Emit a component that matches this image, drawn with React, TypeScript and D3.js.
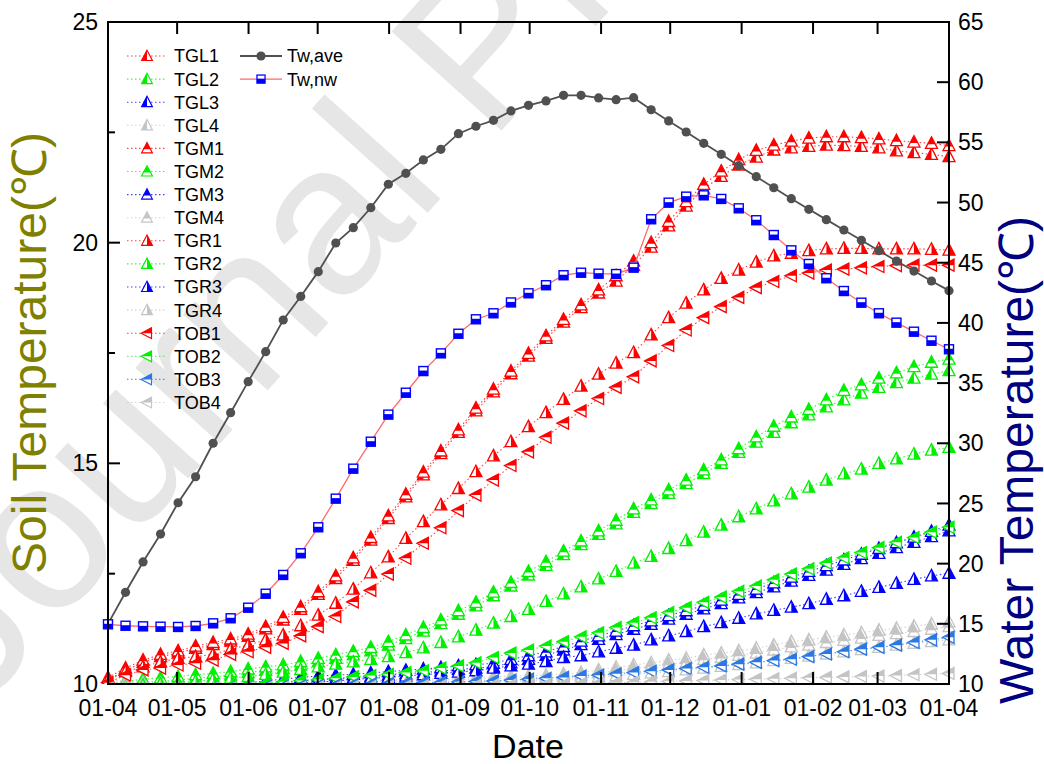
import React from "react";
import * as d3 from "d3";

const WIDTH = 1044;
const HEIGHT = 764;
const PLOT = { left: 108, right: 949, top: 22, bottom: 684 };
const FONT = "'Liberation Sans', Arial, Helvetica, sans-serif";

// Sampling: 49 evenly spaced readings across one year
const START = new Date(2020, 3, 1);
const END = new Date(2021, 3, 1);
const STEP_DAYS = 365 / 48;
const sampleDates = d3.range(49).map((i) => new Date(START.getTime() + i * STEP_DAYS * 864e5));

// Soil temperatures (℃), left axis
const TGL1 = [10.10,10.31,10.49,10.62,10.70,10.81,10.89,10.97,11.08,11.25, 11.45,11.69,12.03,12.39,12.80,13.26,13.75,14.24,14.74,15.22, 15.70,16.19,16.62,17.03,17.43,17.83,18.20,18.53,18.86,19.13, 19.48,19.90,20.38,20.83,21.22,21.50,21.76,21.94,22.10,22.15, 22.18,22.21,22.20,22.18,22.15,22.08,22.04,22.00,21.95];
const TGL2 = [9.91,9.98,10.03,10.06,10.09,10.13,10.16,10.20,10.26,10.31, 10.35,10.43,10.50,10.58,10.66,10.75,10.88,11.03,11.20,11.37, 11.58,11.77,12.00,12.22,12.47,12.69,12.93,13.16,13.39,13.63, 13.89,14.09,14.32,14.54,14.77,15.00,15.25,15.48,15.70,15.92, 16.10,16.28,16.44,16.59,16.72,16.83,16.93,17.02,17.10];
const TGL3 = [9.60,9.65,9.70,9.75,9.79,9.83,9.87,9.91,9.95,9.99, 10.03,10.07,10.10,10.12,10.14,10.17,10.20,10.23,10.26,10.29, 10.33,10.36,10.39,10.48,10.56,10.65,10.77,10.89,11.01,11.12, 11.24,11.35,11.47,11.58,11.70,11.82,11.95,12.07,12.20,12.33, 12.46,12.58,12.71,12.84,12.96,13.09,13.21,13.34,13.47];
const TGL4 = [10.08,10.07,10.06,10.05,10.05,10.04,10.04,10.04,10.04,10.04, 10.05,10.05,10.06,10.06,10.07,10.08,10.09,10.10,10.11,10.12, 10.13,10.15,10.16,10.18,10.19,10.20,10.23,10.26,10.32,10.38, 10.43,10.48,10.54,10.58,10.66,10.70,10.75,10.81,10.88,10.96, 11.00,11.06,11.11,11.16,11.22,11.26,11.31,11.36,11.41];
const TGM1 = [10.15,10.36,10.54,10.67,10.75,10.86,10.94,11.02,11.13,11.30, 11.51,11.75,12.09,12.45,12.86,13.32,13.81,14.30,14.80,15.28, 15.76,16.25,16.68,17.09,17.49,17.89,18.26,18.59,18.93,19.25, 19.58,20.00,20.48,20.93,21.32,21.62,21.88,22.09,22.21,22.30, 22.37,22.40,22.40,22.38,22.35,22.31,22.28,22.25,22.20];
const TGM2 = [9.99,10.06,10.11,10.14,10.17,10.21,10.24,10.28,10.34,10.39, 10.43,10.51,10.58,10.66,10.74,10.83,10.96,11.11,11.28,11.45, 11.66,11.85,12.08,12.30,12.55,12.77,13.01,13.24,13.47,13.71, 13.97,14.17,14.40,14.62,14.85,15.08,15.33,15.60,15.84,16.05, 16.22,16.44,16.65,16.78,16.93,17.05,17.19,17.29,17.36];
const TGM3 = [9.68,9.73,9.78,9.83,9.87,9.91,9.95,9.99,10.03,10.07, 10.11,10.15,10.18,10.20,10.22,10.25,10.28,10.31,10.34,10.37, 10.41,10.44,10.47,10.56,10.64,10.73,10.85,10.97,11.09,11.20, 11.32,11.43,11.55,11.66,11.78,11.90,12.03,12.15,12.29,12.42, 12.55,12.68,12.81,12.94,13.07,13.20,13.33,13.46,13.60];
const TGM4 = [10.05,10.04,10.03,10.02,10.02,10.01,10.01,10.01,10.01,10.01, 10.02,10.02,10.03,10.03,10.04,10.05,10.06,10.07,10.08,10.09, 10.10,10.11,10.12,10.13,10.14,10.15,10.17,10.20,10.25,10.30, 10.35,10.40,10.45,10.49,10.56,10.60,10.65,10.70,10.77,10.84, 10.88,10.94,10.99,11.04,11.10,11.14,11.19,11.24,11.30];
const TGR1 = [10.08,10.28,10.39,10.50,10.58,10.62,10.67,10.79,10.88,11.00, 11.11,11.32,11.56,11.83,12.15,12.52,12.88,13.30,13.68,14.06, 14.43,14.81,15.17,15.49,15.83,16.15,16.45,16.75,17.02,17.27, 17.51,17.91,18.30,18.63,18.93,19.19,19.38,19.56,19.70,19.76, 19.82,19.86,19.87,19.87,19.86,19.86,19.86,19.85,19.83];
const TGR2 = [9.85,9.92,9.97,10.00,10.03,10.06,10.10,10.13,10.17,10.22, 10.27,10.33,10.39,10.45,10.50,10.56,10.62,10.71,10.82,10.94, 11.07,11.22,11.38,11.53,11.69,11.87,12.04,12.20,12.38,12.55, 12.74,12.89,13.07,13.25,13.44,13.60,13.79,13.97,14.15,14.31, 14.46,14.62,14.76,14.87,15.00,15.10,15.21,15.30,15.36];
const TGR3 = [9.50,9.55,9.60,9.65,9.70,9.75,9.80,9.85,9.90,9.94, 9.98,10.01,10.04,10.07,10.10,10.13,10.15,10.18,10.21,10.24, 10.27,10.30,10.36,10.41,10.45,10.51,10.60,10.64,10.73,10.81, 10.88,11.00,11.09,11.19,11.30,11.39,11.49,11.59,11.67,11.74, 11.82,11.92,12.00,12.10,12.19,12.28,12.37,12.45,12.51];
const TGR4 = [9.90,9.90,9.90,9.90,9.90,9.90,9.91,9.91,9.92,9.92, 9.93,9.94,9.95,9.96,9.97,9.98,9.99,10.00,10.01,10.02, 10.03,10.04,10.05,10.06,10.07,10.08,10.10,10.13,10.16,10.19, 10.22,10.25,10.28,10.32,10.36,10.40,10.44,10.48,10.53,10.58, 10.63,10.68,10.73,10.78,10.83,10.88,10.92,10.96,11.00];
const TOB1 = [10.03,10.20,10.32,10.36,10.43,10.47,10.54,10.67,10.73,10.83, 10.92,11.09,11.30,11.53,11.86,12.12,12.49,12.85,13.19,13.54, 13.93,14.28,14.62,14.95,15.26,15.59,15.91,16.19,16.47,16.72, 16.96,17.32,17.67,18.02,18.30,18.55,18.76,18.98,19.12,19.25, 19.31,19.38,19.40,19.43,19.46,19.48,19.49,19.49,19.49];
const TOB2 = [9.70,9.75,9.80,9.84,9.87,9.90,9.93,9.96,9.99,10.02, 10.05,10.08,10.10,10.13,10.16,10.19,10.22,10.26,10.30,10.36, 10.41,10.48,10.60,10.70,10.77,10.86,10.96,11.07,11.16,11.28, 11.39,11.50,11.62,11.73,11.85,11.97,12.10,12.22,12.36,12.49, 12.61,12.74,12.86,12.98,13.09,13.21,13.32,13.44,13.55];
const TOB3 = [9.85,9.86,9.87,9.88,9.89,9.90,9.91,9.92,9.93,9.94, 9.95,9.96,9.97,9.98,9.99,10.00,10.01,10.02,10.03,10.04, 10.05,10.06,10.07,10.09,10.11,10.13,10.15,10.18,10.20,10.23, 10.26,10.29,10.32,10.35,10.38,10.41,10.45,10.49,10.53,10.56, 10.62,10.68,10.73,10.79,10.83,10.88,10.94,11.00,11.06];
const TOB4 = [9.90,9.90,9.90,9.90,9.90,9.90,9.90,9.91,9.91,9.91, 9.92,9.92,9.93,9.93,9.94,9.94,9.95,9.95,9.96,9.96, 9.97,9.97,9.98,9.98,9.99,9.99,10.00,10.01,10.02,10.03, 10.04,10.05,10.06,10.07,10.08,10.09,10.10,10.11,10.12,10.13, 10.14,10.15,10.16,10.17,10.18,10.19,10.21,10.22,10.24];

// Water temperatures (℃), right axis
const TW_AVE = [15.0,17.62,20.14,22.46,25.06,27.22,30.0,32.54,35.12,37.61, 40.24,42.2,44.26,46.64,47.91,49.57,51.52,52.43,53.54,54.42, 55.72,56.34,56.83,57.61,58.08,58.44,58.91,58.91,58.69,58.55, 58.71,57.71,56.78,55.86,54.92,54.01,53.06,52.15,51.23,50.32, 49.44,48.58,47.72,46.86,46.0,45.14,44.31,43.48,42.68];
const TW_NW = [14.96,14.84,14.79,14.76,14.74,14.82,15.04,15.46,16.34,17.5, 19.06,20.86,23.02,25.4,27.89,30.13,32.38,34.2,36.0,37.47, 39.1,40.3,40.8,41.7,42.46,43.13,43.96,44.17,44.09,44.06, 44.59,48.61,49.99,50.49,50.6,50.3,49.52,48.53,47.3,46.03, 44.9,43.71,42.65,41.68,40.8,40.02,39.27,38.52,37.81];

// Axis ticks
const LEFT_TICKS = [10, 15, 20, 25];
const LEFT_MINOR = [12.5, 17.5, 22.5];
const RIGHT_TICKS = [10, 15, 20, 25, 30, 35, 40, 45, 50, 55, 60, 65];

type MarkerKind = "left" | "top" | "right" | "obs";

const RED = "#ff0000";
const GREEN = "#00f000";
const BLUE = "#0000ff";
const GREY = "#c4c4c4";
const SKY = "#2b78e4";

const soilSeries: { name: string; values: number[]; color: string; kind: MarkerKind }[] = [
  { name: "TGL1", values: TGL1, color: RED, kind: "left" },
  { name: "TGL2", values: TGL2, color: GREEN, kind: "left" },
  { name: "TGL3", values: TGL3, color: BLUE, kind: "left" },
  { name: "TGL4", values: TGL4, color: GREY, kind: "left" },
  { name: "TGM1", values: TGM1, color: RED, kind: "top" },
  { name: "TGM2", values: TGM2, color: GREEN, kind: "top" },
  { name: "TGM3", values: TGM3, color: BLUE, kind: "top" },
  { name: "TGM4", values: TGM4, color: GREY, kind: "top" },
  { name: "TGR1", values: TGR1, color: RED, kind: "right" },
  { name: "TGR2", values: TGR2, color: GREEN, kind: "right" },
  { name: "TGR3", values: TGR3, color: BLUE, kind: "right" },
  { name: "TGR4", values: TGR4, color: GREY, kind: "right" },
  { name: "TOB1", values: TOB1, color: RED, kind: "obs" },
  { name: "TOB2", values: TOB2, color: GREEN, kind: "obs" },
  { name: "TOB3", values: TOB3, color: SKY, kind: "obs" },
  { name: "TOB4", values: TOB4, color: GREY, kind: "obs" },
];

const x = d3.scaleTime().domain([START, END]).range([PLOT.left, PLOT.right]);
const yL = d3.scaleLinear().domain([10, 25]).range([PLOT.bottom, PLOT.top]);
const yR = d3.scaleLinear().domain([10, 65]).range([PLOT.bottom, PLOT.top]);
const monthTicks = x.ticks(d3.timeMonth.every(1) as d3.TimeInterval);
const fmt = d3.timeFormat("%d-%m");

const UP = "M0,-6.5L6,5L-6,5Z";
const LEFTTRI = "M-6.5,0L5,-6L5,6Z";
const HALF: Record<MarkerKind, string> = {
  left: "M0,-6.5L-6,5L0,5Z",
  right: "M0,-6.5L6,5L0,5Z",
  top: "M0,-6.5L3.9,1L-3.9,1Z",
  obs: "M-6.5,0L5,-6L5,0Z",
};

function TriMarker({ cx, cy, kind, color, s = 1 }: { cx: number; cy: number; kind: MarkerKind; color: string; s?: number }) {
  const outline = kind === "obs" ? LEFTTRI : UP;
  return (
    <g transform={`translate(${cx},${cy}) scale(${s})`}>
      <path d={outline} fill="#fff" />
      <path d={HALF[kind]} fill={color} />
      <path d={outline} fill="none" stroke={color} strokeWidth={1.3} />
    </g>
  );
}

function SquareMarker({ cx, cy, s = 1 }: { cx: number; cy: number; s?: number }) {
  return (
    <g transform={`translate(${cx},${cy}) scale(${s})`}>
      <rect x={-4.5} y={-4.5} width={9} height={9} fill="#fff" />
      <rect x={-4.5} y={-0.5} width={9} height={5} fill={BLUE} />
      <rect x={-4.5} y={-4.5} width={9} height={9} fill="none" stroke={BLUE} strokeWidth={1.4} />
    </g>
  );
}

export default function App() {
  const soilLine = d3
    .line<number>()
    .x((_, i) => x(sampleDates[i]))
    .y((d) => yL(d));
  const waterLine = d3
    .line<number>()
    .x((_, i) => x(sampleDates[i]))
    .y((d) => yR(d));

  const legendRowY = (i: number) => 56 + i * 23.1;

  return (
    <svg width={WIDTH} height={HEIGHT} style={{ display: "block", position: "absolute", left: 0, top: 0 }} fontFamily={FONT}>
      <defs>
        <clipPath id="plotArea">
          <rect x={0} y={0} width={WIDTH} height={PLOT.bottom} />
        </clipPath>
      </defs>
      <rect width={WIDTH} height={HEIGHT} fill="#fff" />

      {/* watermark */}
      <text transform="translate(-22,712) rotate(-48)" fontSize={215} fill="#e6e6e6" fontFamily={FONT}>
        Journal Pre-proof
      </text>

      {/* soil series */}
      <g clipPath="url(#plotArea)">
        {soilSeries.map((s) => (
          <path
            key={s.name + "-line"}
            d={soilLine(s.values) ?? ""}
            fill="none"
            stroke={s.color}
            strokeOpacity={0.75}
            strokeWidth={1.1}
            strokeDasharray="1.5,2.5"
          />
        ))}
        {soilSeries.map((s) => (
          <g key={s.name + "-markers"}>
            {s.values.map((v, i) => (
              <TriMarker key={i} cx={x(sampleDates[i])} cy={yL(v)} kind={s.kind} color={s.color} />
            ))}
          </g>
        ))}

        {/* average water temperature */}
        <path d={waterLine(TW_AVE) ?? ""} fill="none" stroke="#505050" strokeWidth={1.8} />
        {TW_AVE.map((v, i) => (
          <circle key={i} cx={x(sampleDates[i])} cy={yR(v)} r={4.6} fill="#505050" />
        ))}

        {/* water temperature, nw */}
        <path d={waterLine(TW_NW) ?? ""} fill="none" stroke="#ff6a6a" strokeWidth={1.3} />
        {TW_NW.map((v, i) => (
          <SquareMarker key={i} cx={x(sampleDates[i])} cy={yR(v)} />
        ))}
      </g>

      {/* frame */}
      <rect
        x={PLOT.left}
        y={PLOT.top}
        width={PLOT.right - PLOT.left}
        height={PLOT.bottom - PLOT.top}
        fill="none"
        stroke="#000"
        strokeWidth={2}
      />

      {/* bottom and top ticks */}
      {monthTicks.map((d, i) => (
        <g key={"xt" + i}>
          <line x1={x(d)} x2={x(d)} y1={PLOT.bottom} y2={PLOT.bottom - 12} stroke="#000" strokeWidth={2} />
          <line x1={x(d)} x2={x(d)} y1={PLOT.top} y2={PLOT.top + 12} stroke="#000" strokeWidth={2} />
          <text x={x(d)} y={716} fontSize={23} textAnchor="middle" fill="#000">
            {fmt(d)}
          </text>
        </g>
      ))}

      {/* left axis */}
      {LEFT_TICKS.map((t) => (
        <g key={"yl" + t}>
          <line x1={PLOT.left} x2={PLOT.left + 12} y1={yL(t)} y2={yL(t)} stroke="#000" strokeWidth={2} />
          <text x={98} y={yL(t)} dy="0.35em" fontSize={23} textAnchor="end" fill="#000">
            {t}
          </text>
        </g>
      ))}
      {LEFT_MINOR.map((t) => (
        <line key={"ylm" + t} x1={PLOT.left} x2={PLOT.left + 7} y1={yL(t)} y2={yL(t)} stroke="#000" strokeWidth={2} />
      ))}

      {/* right axis */}
      {RIGHT_TICKS.map((t) => (
        <g key={"yr" + t}>
          <line x1={PLOT.right} x2={PLOT.right - 12} y1={yR(t)} y2={yR(t)} stroke="#000" strokeWidth={2} />
          <text x={958} y={yR(t)} dy="0.35em" fontSize={23} textAnchor="start" fill="#000">
            {t}
          </text>
        </g>
      ))}

      {/* axis titles */}
      <text x={528} y={758} fontSize={34} textAnchor="middle" fill="#000">
        Date
      </text>
      <text transform={`translate(46,353) rotate(-90)`} fontSize={48} textAnchor="middle" fill="#808000">
        Soil Temperature(℃)
      </text>
      <text transform={`translate(1033,460) rotate(-90)`} fontSize={48} textAnchor="middle" fill="#000080">
        Water Temperature(℃)
      </text>

      {/* legend */}
      <g fontSize={18} fill="#000">
        {soilSeries.map((s, i) => (
          <g key={"lg" + s.name}>
            <line
              x1={127}
              x2={167}
              y1={legendRowY(i)}
              y2={legendRowY(i)}
              stroke={s.color}
              strokeOpacity={0.75}
              strokeWidth={1.1}
              strokeDasharray="1.5,2.5"
            />
            <TriMarker cx={147} cy={legendRowY(i)} kind={s.kind} color={s.color} s={0.9} />
            <text x={174} y={legendRowY(i)} dy="0.36em">
              {s.name}
            </text>
          </g>
        ))}
        <line x1={240} x2={282} y1={legendRowY(0)} y2={legendRowY(0)} stroke="#505050" strokeWidth={1.8} />
        <circle cx={261} cy={legendRowY(0)} r={4.6} fill="#505050" />
        <text x={287} y={legendRowY(0)} dy="0.36em">
          Tw,ave
        </text>
        <line x1={240} x2={282} y1={legendRowY(1)} y2={legendRowY(1)} stroke="#ff6a6a" strokeWidth={1.3} />
        <SquareMarker cx={261} cy={legendRowY(1)} s={0.9} />
        <text x={287} y={legendRowY(1)} dy="0.36em">
          Tw,nw
        </text>
      </g>
    </svg>
  );
}
